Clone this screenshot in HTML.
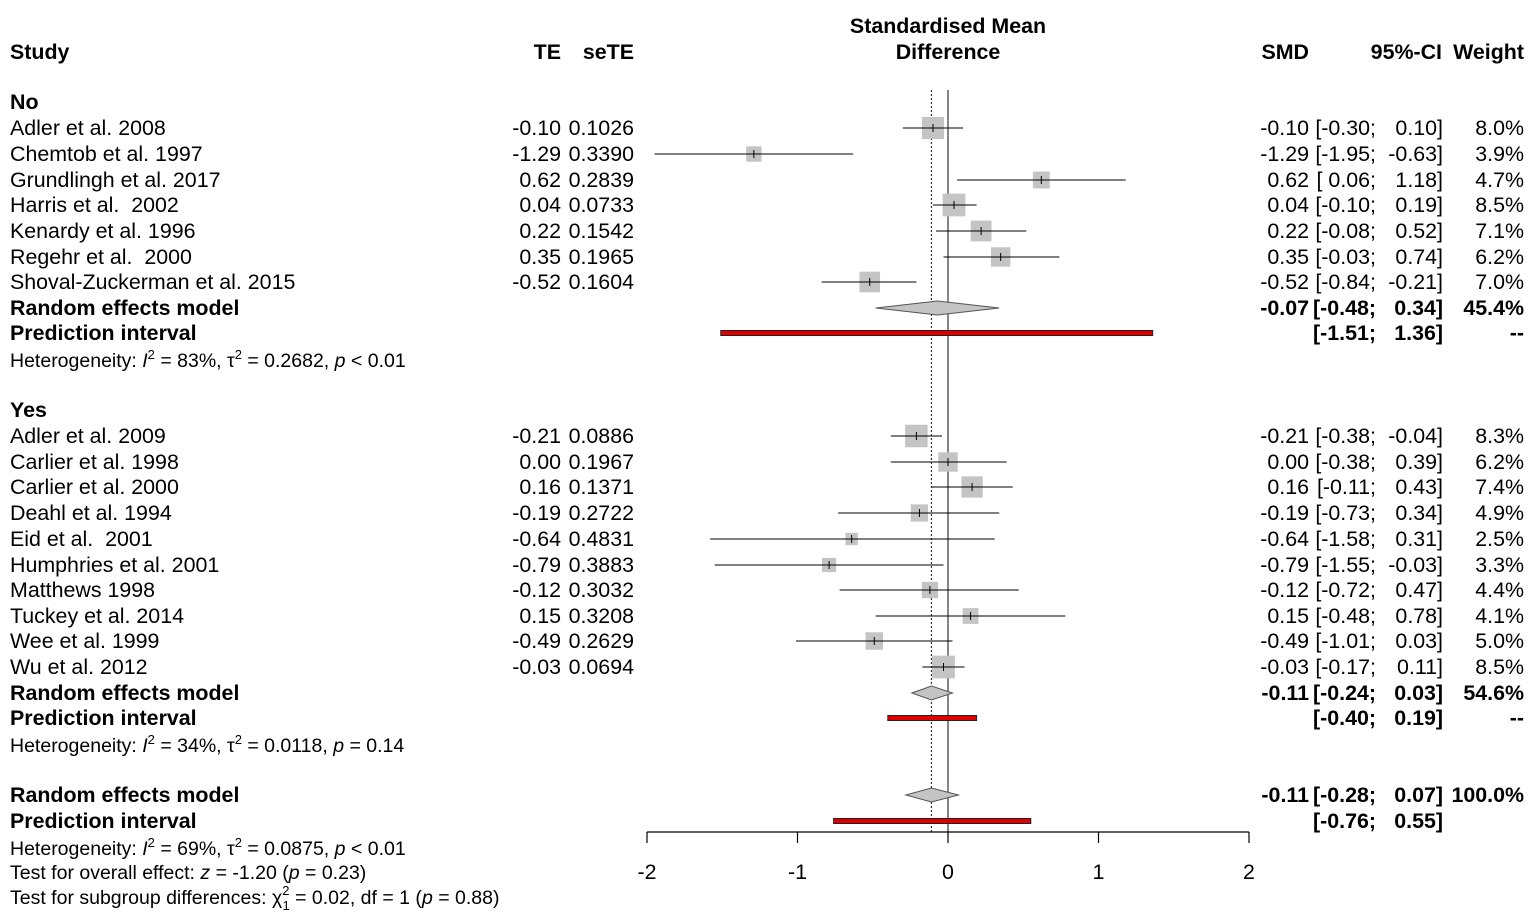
<!DOCTYPE html>
<html><head><meta charset="utf-8"><style>
html,body{margin:0;padding:0;background:#fff;}
svg{display:block;font-family:"Liberation Sans",Arial,sans-serif;}
text{font-size:21.4px;fill:#000;white-space:pre;}
.b{font-weight:bold;}
</style></head><body>
<svg id="plot" width="1535" height="922" xmlns="http://www.w3.org/2000/svg"></svg>
<script>
const names=["Adler et al. 2008","Chemtob et al. 1997","Grundlingh et al. 2017","Harris et al.  2002","Kenardy et al. 1996","Regehr et al.  2000","Shoval-Zuckerman et al. 2015","Adler et al. 2009","Carlier et al. 1998","Carlier et al. 2000","Deahl et al. 1994","Eid et al.  2001","Humphries et al. 2001","Matthews 1998","Tuckey et al. 2014","Wee et al. 1999","Wu et al. 2012"];
const te=[-0.10,-1.29,0.62,0.04,0.22,0.35,-0.52,-0.21,0.00,0.16,-0.19,-0.64,-0.79,-0.12,0.15,-0.49,-0.03];
const se=[0.1026,0.3390,0.2839,0.0733,0.1542,0.1965,0.1604,0.0886,0.1967,0.1371,0.2722,0.4831,0.3883,0.3032,0.3208,0.2629,0.0694];
const lo=[-0.30,-1.95,0.06,-0.10,-0.08,-0.03,-0.84,-0.38,-0.38,-0.11,-0.73,-1.58,-1.55,-0.72,-0.48,-1.01,-0.17];
const hi=[0.10,-0.63,1.18,0.19,0.52,0.74,-0.21,-0.04,0.39,0.43,0.34,0.31,-0.03,0.47,0.78,0.03,0.11];
const weights=[8.0,3.9,4.7,8.5,7.1,6.2,7.0,8.3,6.2,7.4,4.9,2.5,3.3,4.4,4.1,5.0,8.5];
const rowY=[128,154,180,205,231,257,282,436,462,487,513,539,565,590,616,641,667];
const models=[{est:-0.07,lo:-0.48,hi:0.34,w:"45.4%",y:308},{est:-0.11,lo:-0.24,hi:0.03,w:"54.6%",y:693},{est:-0.11,lo:-0.28,hi:0.07,w:"100.0%",y:795}];
const pis=[{lo:-1.51,hi:1.36,y:333},{lo:-0.40,hi:0.19,y:718},{lo:-0.76,hi:0.55,y:821}];
const ticks=[-2,-1,0,1,2];
const overall=-0.11;

const NS="http://www.w3.org/2000/svg";
const svg=document.getElementById('plot');
const X=v=>948+v*150.5;
function el(tag,at,txt){const e=document.createElementNS(NS,tag);for(const k in at)e.setAttribute(k,at[k]);if(txt!==undefined)e.innerHTML=txt;svg.appendChild(e);return e;}
function tx(x,y,s,anchor,cls,name){const e=el('text',{x:x,y:y+7,'text-anchor':anchor||'start',class:cls||''},s);

return e;}
const f2=v=>{let s=Math.abs(v).toFixed(2);return (v<0?'-':'')+s;};
const f2p=v=>(v<0?'-':' ')+Math.abs(v).toFixed(2);
function ci(y,a,b,cls,name){
  tx(1376,y,"["+f2p(a)+";","end",cls,name+"-low");
  tx(1443,y,f2(b)+"]","end",cls,name+"-high");
}

tx(10,52,"Study","start","b","header-study");
tx(561,52,"TE","end","b","header-te");
tx(634,52,"seTE","end","b","header-sete");
tx(948,26,"Standardised Mean","middle","b","header-smd-title");
tx(948,52,"Difference","middle","b","header-smd-title2");
tx(1309,52,"SMD","end","b","header-smd");
tx(1442,52,"95%-CI","end","b","header-ci");
tx(1524,52,"Weight","end","b","header-weight");
tx(10,102,"No","start","b","group-no");
tx(10,410,"Yes","start","b","group-yes");

let l=el('line',{x1:X(0),x2:X(0),y1:90,y2:832,stroke:'#444','stroke-width':1.3});

l=el('line',{x1:X(overall),x2:X(overall),y1:90,y2:832,stroke:'#333','stroke-width':1.2,'stroke-dasharray':'2,2'});


l=el('line',{x1:X(-2),x2:X(2),y1:832,y2:832,stroke:'#000','stroke-width':1.2});

ticks.forEach(t=>{const k=el('line',{x1:X(t),x2:X(t),y1:832,y2:843,stroke:'#000','stroke-width':1.2});

tx(X(t),872,t,"middle","","x-tick-label");});

names.forEach((n,i)=>{const y=rowY[i];
tx(10,y,n,"start","","study-name");
tx(561,y,f2(te[i]),"end","","study-te");
tx(634,y,se[i].toFixed(4),"end","","study-sete");
tx(1309,y,f2(te[i]),"end","","study-smd");
ci(y,lo[i],hi[i],"","study-ci");
tx(1524,y,weights[i].toFixed(1)+"%","end","","study-weight");
const s=7.8*Math.sqrt(weights[i]);
const r=el('rect',{x:X(te[i])-s/2,y:y-s/2,width:s,height:s,fill:'#c4c4c4'});

const c=el('line',{x1:X(lo[i]),x2:X(hi[i]),y1:y,y2:y,stroke:'#000','stroke-width':1});

const m=el('line',{x1:X(te[i]),x2:X(te[i]),y1:y-4,y2:y+4,stroke:'#000','stroke-width':1});

});

models.forEach(m=>{const y=m.y;
tx(10,y,"Random effects model","start","b","random-effects-label");
tx(1309,y,f2(m.est),"end","b","model-smd");
ci(y,m.lo,m.hi,"b","model-ci");
tx(1524,y,m.w,"end","b","model-weight");
const p=el('polygon',{points:`${X(m.lo)},${y} ${X(m.est)},${y-7} ${X(m.hi)},${y} ${X(m.est)},${y+7}`,fill:'#c4c4c4',stroke:'#555','stroke-width':1});

});
pis.forEach(p=>{const y=p.y;
tx(10,y,"Prediction interval","start","b","prediction-interval-label");
ci(y,p.lo,p.hi,"b","pi-ci");
const r=el('rect',{x:X(p.lo),y:y-2.5,width:X(p.hi)-X(p.lo),height:5,fill:'#e00000',stroke:'#222','stroke-width':1});

});
tx(1524,333,"--","end","b","pi-weight");
tx(1524,718,"--","end","b","pi-weight");

function het(y,html,name){const e=el('text',{x:10,y:y+7,style:'font-size:19.5px'},html);
}
const sup='dy="-8" style="font-size:13px"';
het(360,'Heterogeneity: <tspan font-style="italic">I</tspan><tspan '+sup+'>2</tspan><tspan dy="8"> = 83%, τ</tspan><tspan '+sup+'>2</tspan><tspan dy="8"> = 0.2682, </tspan><tspan font-style="italic">p</tspan> &lt; 0.01','heterogeneity-no');
het(745,'Heterogeneity: <tspan font-style="italic">I</tspan><tspan '+sup+'>2</tspan><tspan dy="8"> = 34%, τ</tspan><tspan '+sup+'>2</tspan><tspan dy="8"> = 0.0118, </tspan><tspan font-style="italic">p</tspan> = 0.14','heterogeneity-yes');
het(848,'Heterogeneity: <tspan font-style="italic">I</tspan><tspan '+sup+'>2</tspan><tspan dy="8"> = 69%, τ</tspan><tspan '+sup+'>2</tspan><tspan dy="8"> = 0.0875, </tspan><tspan font-style="italic">p</tspan> &lt; 0.01','heterogeneity-overall');
het(872,'Test for overall effect: <tspan font-style="italic">z</tspan> = -1.20 (<tspan font-style="italic">p</tspan> = 0.23)','overall-effect-test');
het(897,'Test for subgroup differences: χ<tspan dy="-9" style="font-size:13px">2</tspan><tspan dx="-7" dy="15" style="font-size:13px">1</tspan><tspan dy="-6"> = 0.02, df = 1 (</tspan><tspan font-style="italic">p</tspan> = 0.88)','subgroup-test');
</script>
</body></html>
